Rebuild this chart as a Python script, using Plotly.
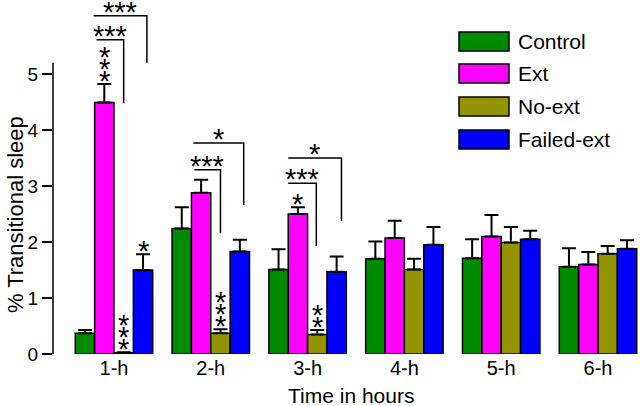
import plotly.graph_objects as go

# ---------------- data ----------------
hours = ["1-h", "2-h", "3-h", "4-h", "5-h", "6-h"]
groups = ["Control", "Ext", "No-ext", "Failed-ext"]

control = [0.37, 2.24, 1.51, 1.70, 1.71, 1.56]
control_err = [0.06, 0.38, 0.36, 0.31, 0.34, 0.33]
ext = [4.49, 2.88, 2.50, 2.07, 2.10, 1.60]
ext_err = [0.33, 0.23, 0.12, 0.31, 0.38, 0.22]
noext = [0.02, 0.37, 0.35, 1.51, 1.99, 1.79]
noext_err = [0.01, 0.07, 0.08, 0.19, 0.28, 0.14]
failed = [1.50, 1.83, 1.47, 1.95, 2.05, 1.88]
failed_err = [0.28, 0.21, 0.27, 0.32, 0.15, 0.15]

colors = ["#008a00", "#ff00ff", "#949400", "#0000ff"]

# stacked stars above single bars: (hour index, series index, number of stars)
star_hour = [0, 0, 0, 1, 2, 2]
star_series = [1, 2, 3, 2, 1, 2]
star_count = [3, 3, 1, 3, 1, 2]

# comparison brackets
br_hour = [0, 0, 1, 1, 2, 2]
br_x0 = [-0.18, -0.21, -0.17, -0.18, -0.20, -0.20]
br_x1 = [0.10, 0.34, 0.10, 0.34, 0.09, 0.35]
br_y = [5.61, 6.04, 3.29, 3.77, 3.05, 3.50]
br_bottom = [4.48, 5.20, 2.16, 2.66, 1.93, 2.375]
br_label = ["***", "***", "***", "*", "***", "*"]

FONT = "Arial, Liberation Sans, sans-serif"
series_vals = [control, ext, noext, failed]
series_errs = [control_err, ext_err, noext_err, failed_err]
offsets = [-0.3, -0.1, 0.1, 0.3]

fig = go.Figure()
for name, vals, errs, col in zip(groups, series_vals, series_errs, colors):
    fig.add_trace(go.Bar(
        x=hours, y=vals, name=name,
        marker=dict(color=col, line=dict(color="black", width=1.5)),
        error_y=dict(type="data", array=errs, symmetric=False,
                     arrayminus=[0] * len(errs), color="black",
                     thickness=2, width=7),
        showlegend=False,
    ))

W, H = 640, 406
L, R, T, B = 53, 0, 0, 52
PW, PH = W - L - R, H - T - B
YMAX = 354 / 56.0


def px_x(p):
    return (p - L) / PW


def px_y(p):
    return (H - B - p) / PH


shapes = []
annotations = []

# y axis line (partial)
shapes.append(dict(type="line", xref="paper", yref="y", x0=0, x1=0, y0=0, y1=5.2,
                   line=dict(color="black", width=1.5)))

# stacked stars
for h, s, n in zip(star_hour, star_series, star_count):
    top = series_vals[s][h] + series_errs[s][h]
    for k in range(n):
        annotations.append(dict(x=h + offsets[s], y=top, xref="x", yref="y",
                                text="*", showarrow=False,
                                font=dict(family=FONT, size=29, color="black"),
                                xanchor="center", yanchor="middle",
                                yshift=3 + 12 * k))

# brackets
for h, x0, x1, yv, yb, lab in zip(br_hour, br_x0, br_x1, br_y, br_bottom, br_label):
    shapes.append(dict(type="path", xref="x", yref="y",
                       path=f"M {h + x0},{yv} L {h + x1},{yv} L {h + x1},{yb}",
                       line=dict(color="black", width=1.5)))
    annotations.append(dict(x=h + (x0 + x1) / 2, y=yv, xref="x", yref="y",
                            text=lab, showarrow=False,
                            font=dict(family=FONT, size=29, color="black"),
                            xanchor="center", yanchor="middle", yshift=4))

# legend (drawn manually)
leg_top = [32, 64, 97, 130]
for name, col, ty in zip(groups, colors, leg_top):
    shapes.append(dict(type="rect", xref="paper", yref="paper",
                       x0=px_x(459), x1=px_x(509), y0=px_y(ty + 19), y1=px_y(ty),
                       fillcolor=col, line=dict(color="black", width=1.5)))
    annotations.append(dict(x=px_x(516), y=px_y(ty + 9.5), xref="paper", yref="paper",
                            text=name, showarrow=False, xanchor="left", yanchor="middle",
                            font=dict(family=FONT, size=21, color="black")))

# axis titles
annotations.append(dict(x=0, y=2.48, xref="paper", yref="y", xshift=-38,
                        text="% Transitional sleep", textangle=-90, showarrow=False,
                        xanchor="center", yanchor="middle",
                        font=dict(family=FONT, size=22, color="black")))
annotations.append(dict(x=px_x(351), y=0, xref="paper", yref="paper", yshift=-41,
                        text="Time in hours", showarrow=False,
                        xanchor="center", yanchor="middle",
                        font=dict(family=FONT, size=21, color="black")))

fig.update_layout(
    width=W, height=H,
    margin=dict(l=L, r=R, t=T, b=B),
    paper_bgcolor="white", plot_bgcolor="white",
    barmode="group", bargap=0.2, bargroupgap=0,
    shapes=shapes, annotations=annotations,
    xaxis=dict(type="category", range=[-0.630, 5.434], showline=False,
               showgrid=False, zeroline=False, ticks="",
               tickfont=dict(family=FONT, size=20, color="black")),
    yaxis=dict(range=[0, YMAX], showline=False, showgrid=False, zeroline=False,
               tickvals=[0, 1, 2, 3, 4, 5], ticks="outside", ticklen=10,
               tickwidth=1.5, tickcolor="black",
               tickfont=dict(family=FONT, size=19, color="black")),
)

fig.write_html("out.html", config={"displayModeBar": False},
               post_script="document.body.style.margin='0px';document.body.style.padding='0px';")
